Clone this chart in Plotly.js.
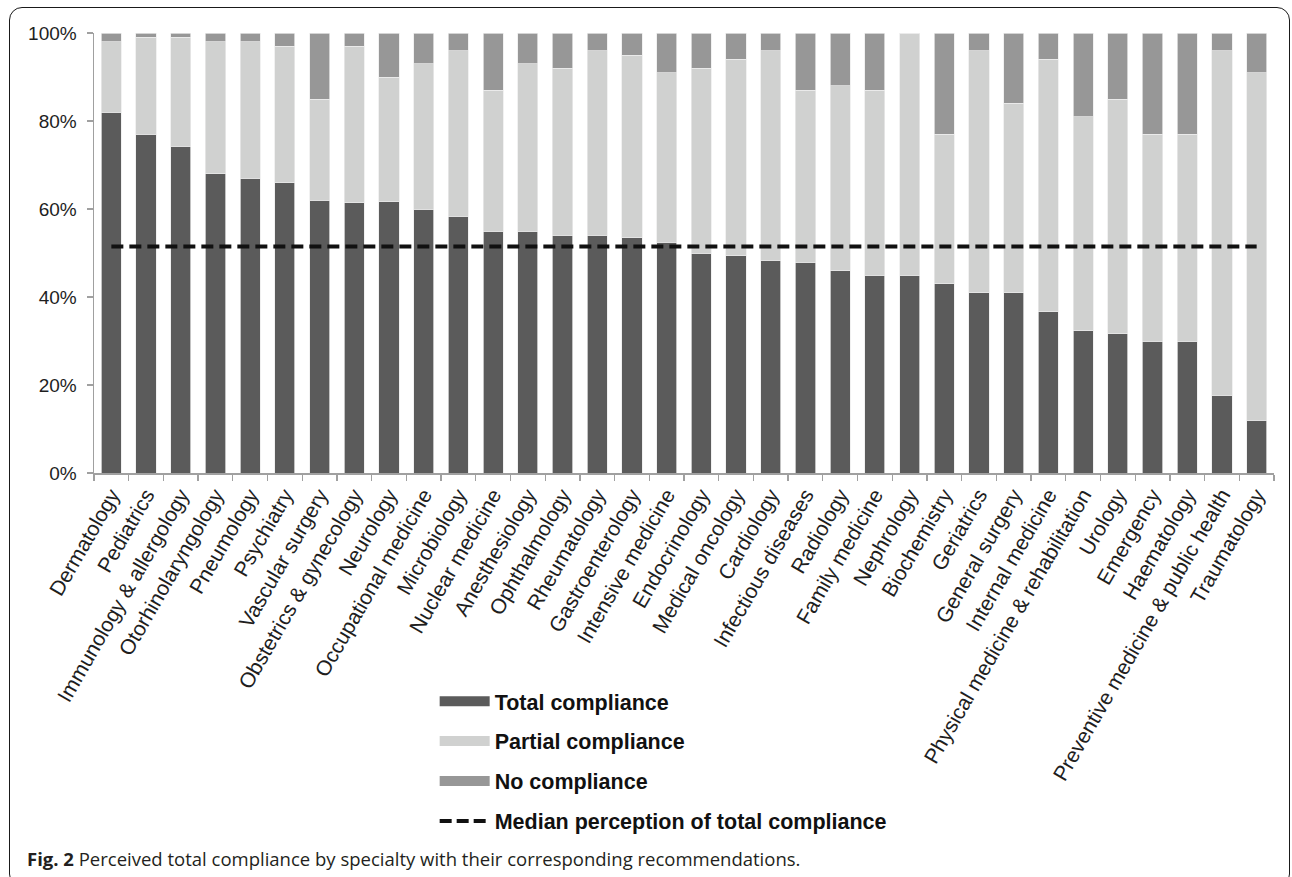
<!DOCTYPE html>
<html>
<head>
<meta charset="utf-8">
<script src="https://cdn.plot.ly/plotly-3.0.1.min.js"></script>
<style>
  html, body { margin: 0; padding: 0; background: #fff; }
  #wrap { position: relative; width: 1292px; height: 877px; overflow: hidden; }
  #chart { width: 1292px; height: 877px; }
  #frame { position: absolute; left: 9px; top: 7px; width: 1281px; height: 880px;
           border: 1.6px solid #1a1a1a; border-radius: 13px; box-sizing: border-box; pointer-events: none; }
</style>
</head>
<body>
<div id="wrap">
  <div id="chart"></div>
  <div id="frame"></div>
</div>
<script>
const specialties = [
  "Dermatology", "Pediatrics", "Immunology & allergology", "Otorhinolaryngology", "Pneumology",
  "Psychiatry", "Vascular surgery", "Obstetrics & gynecology", "Neurology", "Occupational medicine",
  "Microbiology", "Nuclear medicine", "Anesthesiology", "Ophthalmology", "Rheumatology",
  "Gastroenterology", "Intensive medicine", "Endocrinology", "Medical oncology", "Cardiology",
  "Infectious diseases", "Radiology", "Family medicine", "Nephrology", "Biochemistry",
  "Geriatrics", "General surgery", "Internal medicine", "Physical medicine & rehabilitation", "Urology",
  "Emergency", "Haematology", "Preventive medicine & public health", "Traumatology"
];
const totalCompliance = [82, 77, 74.3, 68, 67, 66, 62, 61.4, 61.6, 60, 58.4, 55, 55, 54, 54, 53.5, 52.5, 50, 49.4, 48.4,
  47.9, 46, 45, 45, 43, 41, 41, 36.6, 32.3, 31.7, 30, 30, 17.7, 12];
const partialCompliance = [16, 22, 24.7, 30, 31, 31, 23, 35.6, 28.4, 33, 37.6, 32, 38, 38, 42, 41.5, 38.5, 42, 44.6, 47.6,
  39.1, 42, 42, 55, 34, 55, 43, 57.4, 48.7, 53.3, 47, 47, 78.3, 79];
const noCompliance = [2, 1, 1, 2, 2, 3, 15, 3, 10, 7, 4, 13, 7, 8, 4, 5, 9, 8, 6, 4,
  13, 12, 13, 0, 23, 4, 16, 6, 19, 15, 23, 23, 4, 9];
const medianTotal = 51.5;
const yTickValues = [0, 20, 40, 60, 80, 100];
const yTickLabels = ["0%", "20%", "40%", "60%", "80%", "100%"];
const seriesNames = ["Total compliance", "Partial compliance", "No compliance", "Median perception of total compliance"];

const colors = { total: "#5b5b5b", partial: "#d0d1d0", none: "#979797", median: "#111111" };
const barLine = { color: "rgba(235,235,235,0.9)", width: 0.8 };

const traces = [
  { type: "bar", x: specialties, y: totalCompliance, name: seriesNames[0], showlegend: false,
    marker: { color: colors.total, line: barLine }, hoverinfo: "x+y" },
  { type: "bar", x: specialties, y: partialCompliance, name: seriesNames[1], showlegend: false,
    marker: { color: colors.partial, line: barLine }, hoverinfo: "x+y" },
  { type: "bar", x: specialties, y: noCompliance, name: seriesNames[2], showlegend: false,
    marker: { color: colors.none, line: barLine }, hoverinfo: "x+y" },
  { type: "scatter", mode: "lines", x: [specialties[0], specialties[specialties.length - 1]],
    y: [medianTotal, medianTotal], name: seriesNames[3], showlegend: false,
    line: { color: colors.median, width: 4, dash: "12px,6px" } },
  // legend-only entries
  { type: "scatter", mode: "lines", x: [null], y: [null], name: seriesNames[0], legendgroup: "a",
    line: { color: colors.total, width: 11 } },
  { type: "scatter", mode: "lines", x: [null], y: [null], name: seriesNames[1], legendgroup: "b",
    line: { color: colors.partial, width: 11 } },
  { type: "scatter", mode: "lines", x: [null], y: [null], name: seriesNames[2], legendgroup: "c",
    line: { color: colors.none, width: 11 } },
  { type: "scatter", mode: "lines", x: [null], y: [null], name: seriesNames[3], legendgroup: "d",
    line: { color: colors.median, width: 4, dash: "12px,5px" } }
];

const layout = {
  width: 1292, height: 877,
  margin: { l: 94, r: 18, t: 33, b: 404 },
  paper_bgcolor: "#ffffff", plot_bgcolor: "#ffffff",
  barmode: "stack", bargap: 0.42,
  font: { family: "Liberation Sans, Arial, sans-serif", color: "#222222", size: 19 },
  xaxis: {
    type: "category", automargin: false, tickangle: -60,
    showline: true, linecolor: "#a0a0a0", linewidth: 1.5,
    ticks: "outside", tickson: "boundaries", ticklen: 6, tickcolor: "#a0a0a0", tickwidth: 1.3,
    showgrid: false, zeroline: false, fixedrange: true,
    tickfont: { size: 21, color: "#1e1e1e" }
  },
  yaxis: {
    range: [0, 100], automargin: false, tickmode: "array", tickvals: yTickValues, ticktext: yTickLabels,
    showline: true, linecolor: "#a0a0a0", linewidth: 1.5,
    ticks: "outside", ticklen: 6, tickcolor: "#a0a0a0", tickwidth: 1.3, ticklabelstandoff: 6,
    showgrid: false, zeroline: false, fixedrange: true,
    tickfont: { size: 19, color: "#1e1e1e" }
  },
  showlegend: true,
  legend: {
    x: 0.2887, xanchor: "left", y: -0.472, yanchor: "top",
    traceorder: "grouped", tracegroupgap: 9, itemwidth: 50,
    font: { size: 21.5, weight: "bold", color: "#111111" },
    bgcolor: "rgba(0,0,0,0)"
  },
  annotations: [
    { xref: "paper", yref: "paper", x: -0.0585, y: -0.875, xanchor: "left", yanchor: "middle",
      showarrow: false, align: "left",
      text: "<b>Fig. 2</b> Perceived total compliance by specialty with their corresponding recommendations.",
      font: { family: "Open Sans, sans-serif", size: 18.5, color: "#231f20" } }
  ]
};

Plotly.newPlot("chart", traces, layout, { displayModeBar: false, staticPlot: true });
</script>
</body>
</html>
